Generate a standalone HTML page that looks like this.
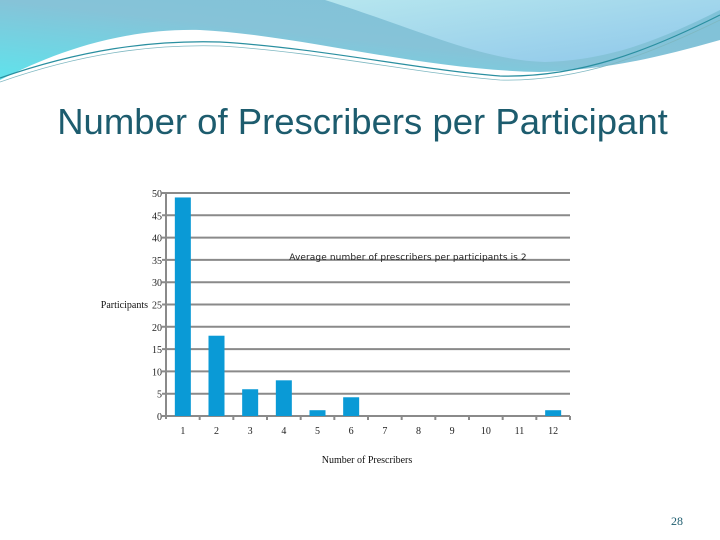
<!DOCTYPE html>
<html><head><meta charset="utf-8"><style>
body{margin:0;background:#fff;}
#wrap{position:relative;width:720px;height:540px;overflow:hidden;font-family:"Liberation Sans",sans-serif;}
#title{position:absolute;left:0;width:725px;top:101px;text-align:center;font-size:36.5px;color:#1d5c6e;}
</style></head><body>
<div id="wrap">
<svg width="720" height="90" style="position:absolute;left:0;top:0">
<defs>
<linearGradient id="g1" x1="0" y1="1" x2="1" y2="0"><stop offset="0" stop-color="#5fe3ec"/><stop offset="0.5" stop-color="#86c3d8"/><stop offset="1" stop-color="#7fc2d8"/></linearGradient>
<linearGradient id="g2" x1="0" y1="0" x2="1" y2="1"><stop offset="0" stop-color="#b6e6ee"/><stop offset="1" stop-color="#8ec7ea"/></linearGradient>
</defs>
<path d="M0,0 L720,0 L720,40 C650,60 600,70 540,72 C420,70 300,35 200,30 C110,28 40,60 0,80 Z" fill="url(#g1)"/>
<path d="M325,0 L720,0 L720,10 C660,40 610,60 545,62 C480,60 420,30 325,0 Z" fill="url(#g2)"/>
<path d="M0,78 C80,50 150,40 220,42 C320,48 420,70 500,76 C580,78 650,50 720,15" fill="none" stroke="#2a8fa0" stroke-width="1.2"/>
<path d="M0,82 C80,54 150,44 220,46 C320,52 420,74 500,80 C580,82 650,54 720,20" fill="none" stroke="#7fb8c2" stroke-width="0.8"/>
</svg>
<div id="title">Number of Prescribers per Participant</div>
<svg id="chart" width="720" height="540" style="position:absolute;left:0;top:0"></svg>
<div style="position:absolute;left:671px;top:514px;font-family:'Liberation Serif',serif;font-size:12px;color:#1d5c6e">28</div>
</div>
<script>
const categories=["1","2","3","4","5","6","7","8","9","10","11","12"];
const values=[49,18,6,8,1.3,4.2,0,0,0,0,0,1.3];
const yTicks=[0,5,10,15,20,25,30,35,40,45,50];
const NS="http://www.w3.org/2000/svg";
const svg=document.getElementById('chart');
const L=166,R=570,T=193,B=416,YMAX=50;
const slot=(R-L)/categories.length;
function y(v){return B-(v/YMAX)*(B-T);}
function x(i){return L+slot*(i+0.5);}
function mk(t,a){const e=document.createElementNS(NS,t);for(const k in a)e.setAttribute(k,a[k]);svg.appendChild(e);return e;}
yTicks.forEach(v=>{
  const g=mk('line',{x1:L-4,x2:R,y1:y(v),y2:y(v),stroke:'#8a8a8a','stroke-width':2});
  
  
  const t=mk('text',{x:L-4,y:y(v)+4,'text-anchor':'end','font-size':10,'font-family':'Liberation Serif, serif',fill:'#222'});
  t.textContent=v;
  
  
});
const ax=mk('line',{x1:L,x2:L,y1:T,y2:B+3,stroke:'#8a8a8a','stroke-width':2});


categories.forEach((c,i)=>{
  const tk=mk('line',{x1:L+slot*(i+1),x2:L+slot*(i+1),y1:B,y2:B+4,stroke:'#8a8a8a','stroke-width':2});
  
  
  const b=mk('rect',{x:x(i)-8,y:y(values[i]),width:16,height:B-y(values[i]),fill:'#0a9ad6'});
  
  
  const t=mk('text',{x:x(i),y:B+18,'text-anchor':'middle','font-size':10,'font-family':'Liberation Serif, serif',fill:'#222'});
  t.textContent=c;
  
  
});
let t=mk('text',{x:148,y:308,'text-anchor':'end','font-size':10,'font-family':'Liberation Serif, serif',fill:'#111'});
t.textContent='Participants';


t=mk('text',{x:367,y:463,'text-anchor':'middle','font-size':10,'font-family':'Liberation Serif, serif',fill:'#111'});
t.textContent='Number of Prescribers';


t=mk('text',{x:408,y:260,'text-anchor':'middle','font-size':9,'font-family':'DejaVu Sans, sans-serif',fill:'#222','letter-spacing':'0.1'});
t.textContent='Average number of prescribers per participants is 2';


</script>
</body></html>
